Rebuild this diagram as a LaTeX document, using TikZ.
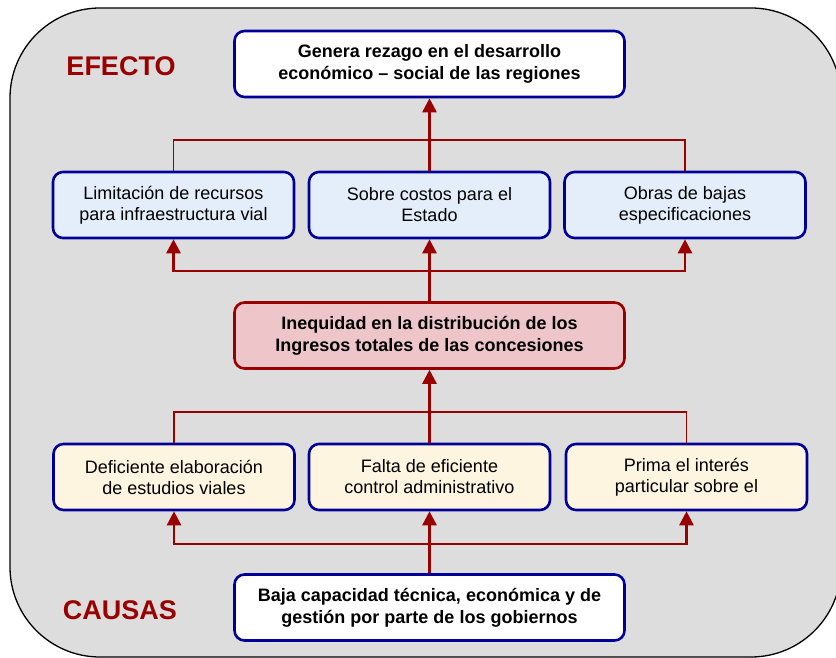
\documentclass[tikz,border=0pt]{standalone}
\usepackage{fontspec}
\setmainfont{Liberation Sans}
\usetikzlibrary{arrows.meta}
\definecolor{bggray}{HTML}{DDDDDD}
\definecolor{navy}{HTML}{000099}
\definecolor{dred}{HTML}{990000}
\definecolor{effill}{HTML}{E4EEFA}
\definecolor{cafill}{HTML}{FDF5DF}
\definecolor{rdfill}{HTML}{EEC6C9}
\tikzset{
  boxbase/.style={rounded corners=10pt, line width=2.6pt, minimum width=241pt, minimum height=66pt,
    align=center, inner sep=2pt, font=\fontsize{18}{21}\selectfont},
  bigbox/.style={boxbase, draw=navy, fill=white, minimum width=390pt, font=\bfseries\fontsize{18}{22}\selectfont},
  effbox/.style={boxbase, draw=navy, fill=effill},
  caubox/.style={boxbase, draw=navy, fill=cafill},
  redbox/.style={boxbase, draw=dred, fill=rdfill, minimum width=390pt, font=\bfseries\fontsize{18}{22}\selectfont},
  arr/.style={draw=dred, line width=2.6pt, -{Triangle[width=14pt,length=14pt]}},
  branch/.style={draw=dred, line width=1.5pt},
  bigword/.style={text=dred, font=\bfseries\fontsize{27}{30}\selectfont}
}
\begin{document}
\begin{tikzpicture}[x=1pt,y=-1pt]
\useasboundingbox (0,0) rectangle (836,658);
\begin{scope}
\clip (0,0) rectangle (836,658);
\draw[fill=bggray, draw=black, line width=1.3pt, rounded corners=90pt] (10,8) rectangle (841,657);
\end{scope}

\node[bigword] (efecto) at (121,66) {EFECTO};
\node[bigword] (causas) at (120,610) {CAUSAS};

\node[bigbox] (top) at (429.5,64) {Genera rezago en el desarrollo\\económico – social de las regiones};
\node[effbox] (e1) at (173.5,205) {Limitación de recursos\\para infraestructura vial};
\node[effbox] (e2) at (429.5,205) {Sobre costos para el\\Estado};
\node[effbox] (e3) at (685,205) {Obras de bajas\\especificaciones};
\node[redbox] (red) at (429.5,335.5) {Inequidad en la distribución de los\\Ingresos totales de las concesiones};
\node[caubox] (c1) at (174,477) {Deficiente elaboración\\de estudios viales};
\node[caubox] (c2) at (429.5,477) {Falta de eficiente\\control administrativo};
\node[caubox] (c3) at (686.5,477) {Prima el interés\\particular sobre el};
\node[bigbox] (bot) at (429.5,607.5) {Baja capacidad técnica, económica y de\\gestión por parte de los gobiernos};

\coordinate (j1) at (429.5,140);
\coordinate (j2) at (429.5,271);
\coordinate (j3) at (429.5,412);
\coordinate (j4) at (429.5,544);

\draw[branch] (e1.north) |- (j1) -| (e3.north);
\draw[arr] (e2.north) -- (top.south);
\draw[arr] (red.north) -- (e2.south);
\draw[arr] (j2) -| (e1.south);
\draw[arr] (j2) -| (e3.south);

\draw[branch] (c1.north) |- (j3) -| (c3.north);
\draw[arr] (c2.north) -- (red.south);
\draw[arr] (bot.north) -- (c2.south);
\draw[arr] (j4) -| (c1.south);
\draw[arr] (j4) -| (c3.south);
\end{tikzpicture}
\end{document}
